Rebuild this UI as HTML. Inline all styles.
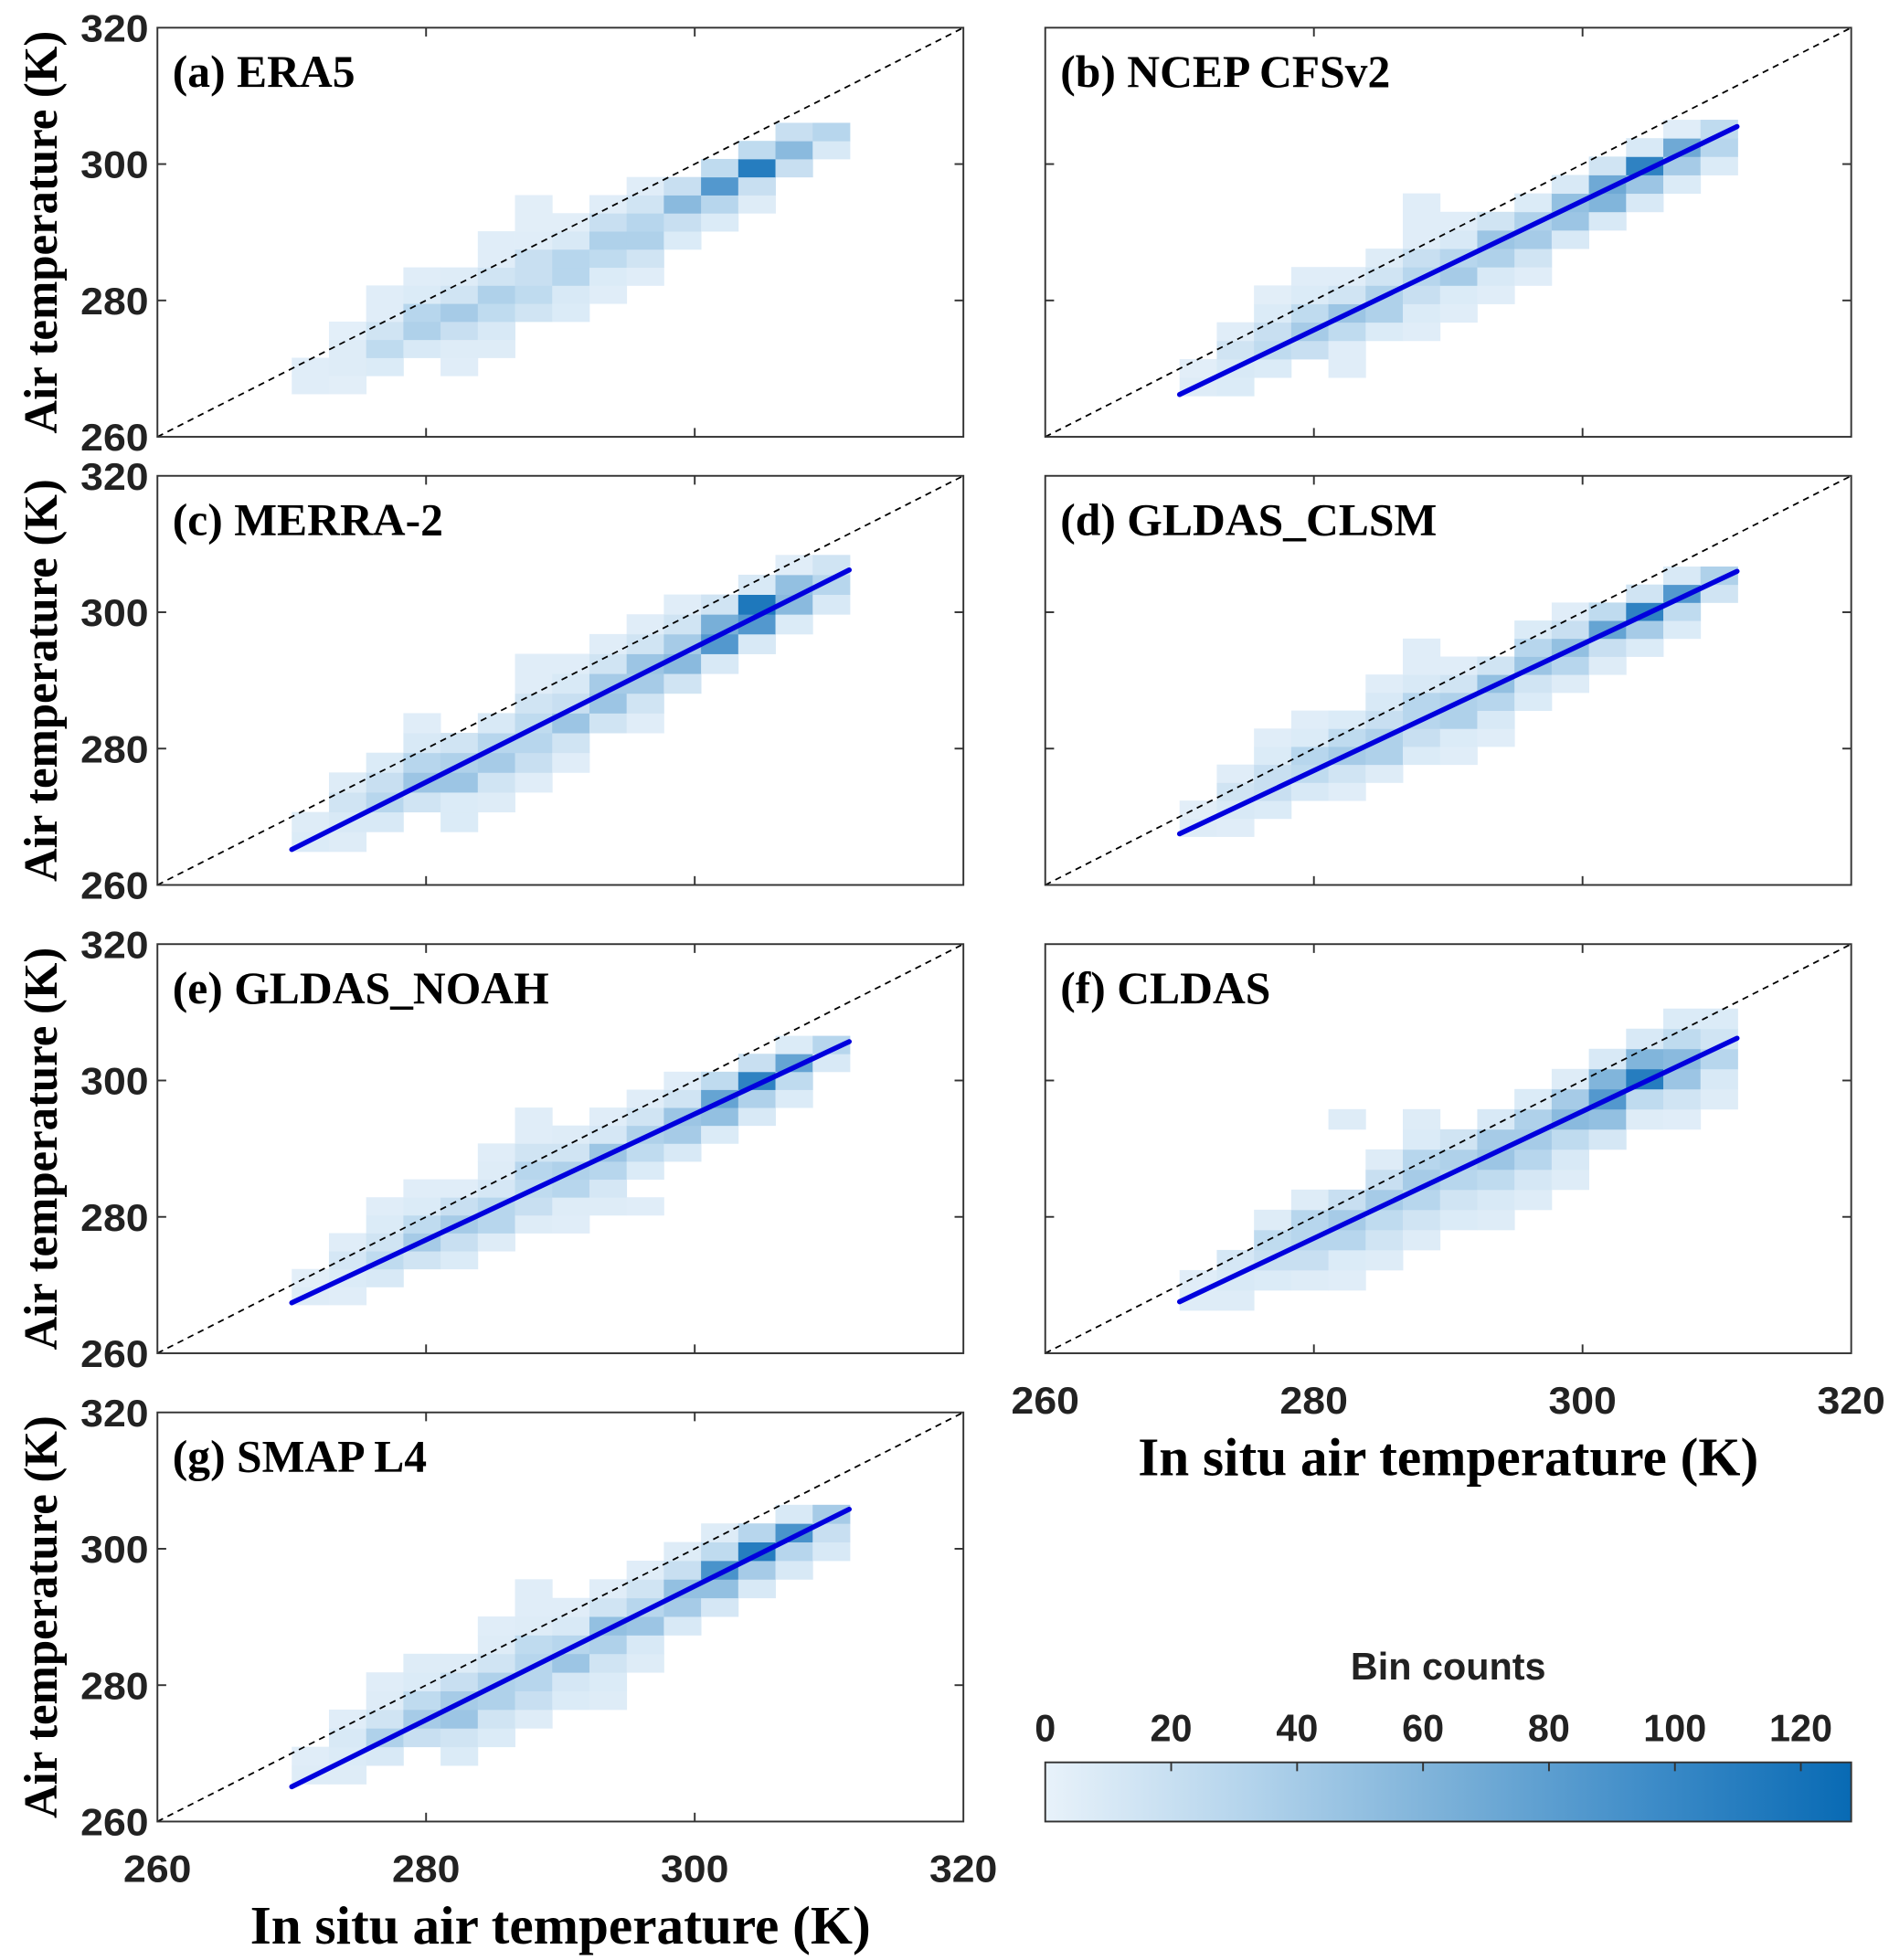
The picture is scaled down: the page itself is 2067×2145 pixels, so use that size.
<!DOCTYPE html>
<html><head><meta charset="utf-8"><style>
html,body{margin:0;padding:0;background:#fff;}
svg{display:block;}
.tick{font-family:"Liberation Sans",Arial,sans-serif;font-weight:bold;font-size:30px;fill:#222;}
.plab{font-family:"Liberation Serif","Times New Roman",serif;font-weight:bold;font-size:36px;fill:#000;}
.atitle{font-family:"Liberation Serif","Times New Roman",serif;font-weight:bold;font-size:43px;fill:#000;}
.ytitle{font-family:"Liberation Serif","Times New Roman",serif;font-weight:bold;font-size:38px;fill:#000;}
</style></head><body>
<svg id="fig" xmlns="http://www.w3.org/2000/svg" width="2067" height="2145" viewBox="0 0 1500 1557" preserveAspectRatio="none">
<defs><linearGradient id="cbg" x1="0" x2="1" y1="0" y2="0">
<stop offset="0" stop-color="rgb(232,242,250)"/>
<stop offset="0.25" stop-color="rgb(180,212,236)"/>
<stop offset="0.5" stop-color="rgb(122,176,216)"/>
<stop offset="0.75" stop-color="rgb(62,140,200)"/>
<stop offset="1" stop-color="rgb(8,106,180)"/></linearGradient></defs>
</svg>
<script>
// Shared axis
const axisTicks = [260, 280, 300, 320];
const binX0 = 270, binDX = 2.77;
const cbTicks = [0, 20, 40, 60, 80, 100, 120];
const cbMax = 128;
// Panel labels
const panelNames = ["(a) ERA5","(b) NCEP CFSv2","(c) MERRA-2","(d) GLDAS_CLSM","(e) GLDAS_NOAH","(f) CLDAS","(g) SMAP L4"];
// y-bin origin and size per panel
const binY0 = [266.3, 266.0, 264.9, 267.1, 267.1, 266.3, 265.5];
const binDY = [2.65, 2.7, 2.9, 2.64, 2.63, 2.95, 2.73];
// Fit line y at x=270 and x=311.5 (null = none)
const fitX = [270, 311.5];
const fitY = [null, [266.2,305.5], [265.2,306.2], [267.5,306.0], [267.4,305.7], [267.55,306.2], [265.1,305.8]];
// Start row per column
const startA = [0,0,1,2,1,2,4,4,5,6,8,9,10,12,13];
const countsA = [[5,5],[4,6,6,3],[8,25,15,5,5],[10,35,30,8,5],[5,6,20,40,15,6],[6,10,25,35,15,5,5],[15,25,20,20,5,4,4],[8,10,30,30,10,4],[5,8,25,35,20,5],[5,15,35,30,15,5],[8,20,55,20],[8,30,85,25],[6,20,110,25],[20,55,20],[10,30]];
const startB = [0,0,1,2,1,3,3,4,5,6,8,9,10,11,12];
const countsB = [[6,4],[8,10,15,5],[8,25,20,8,4],[20,40,25,8,5],[5,5,25,45,15,5],[8,35,35,15,6],[5,8,20,30,20,5,5,5],[5,8,40,30,10,5],[5,10,35,45,15],[5,15,40,35,8],[10,45,50,10],[10,60,70,15],[10,45,105,10],[8,40,70,5],[8,30,25]];
const startC = [0,0,1,2,1,2,3,4,6,6,8,9,10,11,12];
const countsC = [[8,6],[6,10,15,6],[10,30,20,8],[15,45,30,10,5],[8,8,45,35,15],[6,15,40,30,10],[5,20,30,25,15,5,5],[5,15,45,20,10,5],[15,45,40,15,5],[5,15,40,45,15,5],[15,55,40,15,5],[10,85,65,15],[10,85,115,10],[8,55,50,5],[10,30,15]];
const startD = [0,0,1,2,2,3,4,4,5,7,8,9,10,11,13];
const countsD = [[6,4],[5,10,15,5],[8,20,20,8,5],[10,25,30,8,5],[5,15,40,25,8],[6,35,35,20,10,5],[8,20,30,30,10,5,5],[5,8,35,35,15,5],[5,10,30,50,15],[8,15,45,30,8],[6,30,50,20,5],[6,20,75,25],[8,40,105,15],[8,25,85,10],[15,35]];
const startE = [0,0,1,2,2,3,4,4,5,5,8,9,10,11,13];
const countsE = [[6,4],[5,8,12,5],[10,25,15,8,5],[15,40,25,8,5],[8,20,40,20,5],[6,30,30,12,6,5],[6,20,25,30,15,5,5],[5,6,30,35,15,6],[6,12,30,45,12,5],[5,0,8,25,35,15,5],[10,40,45,15,5],[8,50,75,25],[10,35,105,20],[8,25,75,8],[10,30]];
const startF = [0,0,1,1,1,2,3,4,4,5,6,8,9,9,10];
const countsF = [[6,5],[6,10,12],[8,20,25,6],[6,20,30,30,6],[5,8,30,40,20,0,0,0,6],[6,15,25,40,20,6],[6,15,30,40,30,8,6],[8,15,30,35,15],[6,10,25,45,40,10],[6,12,30,40,35,8],[6,10,25,55,40,6],[12,50,85,60,10],[6,25,110,60,10],[5,15,45,55,25,8],[6,10,30,15,8]];
const startG = [0,0,1,2,1,2,3,4,4,6,8,9,10,11,12];
const countsG = [[6,5],[6,8,10,5],[10,35,15,6,5],[20,40,25,8,6],[8,15,45,40,20,6],[8,15,35,35,15,6,5],[6,20,30,30,25,6,5,5],[8,12,45,30,10,5],[6,8,15,35,50,15,5],[6,10,45,30,15,5],[10,40,50,20,6],[12,50,90,25,6],[10,40,110,30],[10,30,90,10],[10,20,40]];
const allStarts = [startA,startB,startC,startD,startE,startF,startG];
const allCounts = [countsA,countsB,countsC,countsD,countsE,countsF,countsG];

const NS = "http://www.w3.org/2000/svg";
const svg = document.getElementById("fig");
function mk(tag, attrs, parent){ const e=document.createElementNS(NS,tag); for(const k in attrs) e.setAttribute(k,attrs[k]); (parent||svg).appendChild(e); return e; }
const cmap = [[0,232,242,250],[0.25,180,212,236],[0.5,122,176,216],[0.75,62,140,200],[1,8,106,180]];
function color(v){
  const t=Math.max(0,Math.min(1,v/cbMax));
  for(let i=1;i<cmap.length;i++){
    if(t<=cmap[i][0]){
      const a=cmap[i-1], b=cmap[i], u=(t-a[0])/(b[0]-a[0]);
      return `rgb(${Math.round(a[1]+(b[1]-a[1])*u)},${Math.round(a[2]+(b[2]-a[2])*u)},${Math.round(a[3]+(b[3]-a[3])*u)})`;
    }
  }
  return "rgb(8,106,180)";
}

const W=640, H=325;
const origins = [[125,22],[830,22],[125,378],[830,378],[125,750],[830,750],[125,1122]];

origins.forEach((o,p)=>{
  const [L,T]=o;
  const sx = v => L + (v-260)/60*W;
  const sy = v => T + H - (v-260)/60*H;
  const g = mk("g",{});
  
  
  const cells = mk("g",{},g);
  
  
  allCounts[p].forEach((col,i)=>{
    col.forEach((c,j)=>{
      if(!c) return;
      const row = allStarts[p][i]+j;
      const x1=binX0+i*binDX, x2=x1+binDX, y1=binY0[p]+row*binDY[p], y2=y1+binDY[p];
      const r = mk("rect",{x:sx(x1),y:sy(y2),width:sx(x2)-sx(x1)+0.3,height:sy(y1)-sy(y2)+0.3,fill:color(c)},cells);
      
      
    });
  });
  const d = mk("line",{x1:sx(260),y1:sy(260),x2:sx(320),y2:sy(320),stroke:"#000","stroke-width":1.3,"stroke-dasharray":"5,4"},g);
  
  
  if(fitY[p]){
    const f = mk("line",{x1:sx(fitX[0]),y1:sy(fitY[p][0]),x2:sx(fitX[1]),y2:sy(fitY[p][1]),stroke:"#0000dd","stroke-width":4,"stroke-linecap":"round"},g);
    
    
  }
  const fr = mk("rect",{x:L,y:T,width:W,height:H,fill:"none",stroke:"#333","stroke-width":1.4},g);
  
  
  axisTicks.slice(1,3).forEach(t=>{
    mk("line",{x1:sx(t),y1:T+H,x2:sx(t),y2:T+H-7,stroke:"#333","stroke-width":1.4},g);
    mk("line",{x1:sx(t),y1:T,x2:sx(t),y2:T+7,stroke:"#333","stroke-width":1.4},g);
    mk("line",{x1:L,y1:sy(t),x2:L+7,y2:sy(t),stroke:"#333","stroke-width":1.4},g);
    mk("line",{x1:L+W,y1:sy(t),x2:L+W-7,y2:sy(t),stroke:"#333","stroke-width":1.4},g);
  });
  const lab = mk("text",{x:L+12,y:T+47,class:"plab"},g);
  lab.textContent = panelNames[p];
  
  
  if(p%2===0){
    axisTicks.forEach(t=>{
      const tx = mk("text",{x:L-7,y:sy(t)+11,class:"tick","text-anchor":"end",textLength:54,lengthAdjust:"spacingAndGlyphs"},g);
      tx.textContent = t;
      
      
    });
    const yt = mk("text",{x:0,y:0,class:"ytitle","text-anchor":"middle",textLength:320,lengthAdjust:"spacingAndGlyphs",transform:`translate(${L-80},${T+H/2}) rotate(-90)`},g);
    yt.textContent = "Air temperature (K)";
    
    
  }
  if(p===5 || p===6){
    axisTicks.forEach(t=>{
      const tx = mk("text",{x:sx(t),y:T+H+48,class:"tick","text-anchor":"middle",textLength:54,lengthAdjust:"spacingAndGlyphs"},g);
      tx.textContent = t;
      
      
    });
    const xt = mk("text",{x:L+W/2,y:T+H+97,class:"atitle","text-anchor":"middle"},g);
    xt.textContent = "In situ air temperature (K)";
    
    
  }
});

// Colorbar
const cbL=830, cbT=1400, cbW=640, cbH=47;
const cbx = v => cbL + v/cbMax*cbW;
const cb = mk("g",{});


mk("rect",{x:cbL,y:cbT,width:cbW,height:cbH,fill:"url(#cbg)",stroke:"#333","stroke-width":1.4},cb);
cbTicks.forEach(t=>{
  if(t>0) mk("line",{x1:cbx(t),y1:cbT,x2:cbx(t),y2:cbT+7,stroke:"#333","stroke-width":1.4},cb);
  const tx = mk("text",{x:cbx(t),y:cbT-17,class:"tick","text-anchor":"middle"},cb);
  tx.textContent = t;
  
  
});
const cbt = mk("text",{x:cbL+cbW/2,y:1334,class:"tick","text-anchor":"middle","font-size":"29"},cb);
cbt.textContent = "Bin counts";


</script>
</body></html>
